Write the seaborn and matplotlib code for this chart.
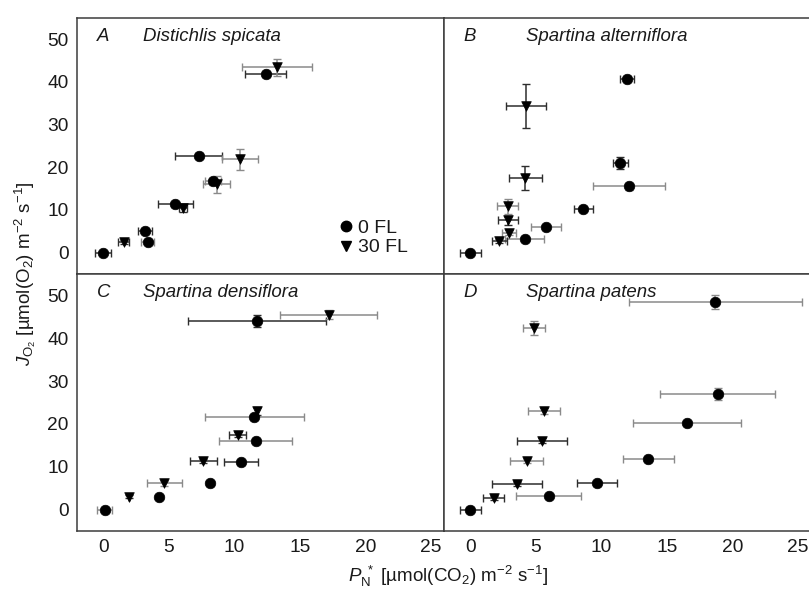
import numpy as np
import pandas as pd
import matplotlib
matplotlib.use("Agg")
import matplotlib.pyplot as plt
from matplotlib.lines import Line2D
import seaborn as sns

sns.set_theme(style="white")
plt.rcParams['font.family'] = ['Liberation Sans', 'DejaVu Sans']
plt.rcParams['mathtext.fontset'] = 'custom'
plt.rcParams['mathtext.rm'] = 'Liberation Sans'
plt.rcParams['mathtext.it'] = 'Liberation Sans:italic'

panels = ["A", "B", "C", "D"]
species = ["Distichlis spicata", "Spartina alterniflora", "Spartina densiflora", "Spartina patens"]
treatments = ["0 FL", "30 FL"]

# ---- Panel A ----
A0_x = [0.0, 3.2, 3.4, 5.5, 7.3, 8.36, 12.4]
A0_y = [0.0, 5.1, 2.6, 11.3, 22.7, 16.7, 41.8]
A0_xe = [0.6, 0.55, 0.5, 1.35, 1.8, 0.6, 1.55]
A0_ye = [0.5, 0.6, 0.5, 0.6, 0.6, 0.8, 0.7]
A0_dark = [1, 1, 0, 1, 1, 0, 1]
A30_x = [1.55, 6.07, 8.66, 10.44, 13.24]
A30_y = [2.5, 10.4, 16.0, 21.9, 43.4]
A30_xe = [0.45, 0.3, 1.05, 1.4, 2.67]
A30_ye = [0.5, 0.8, 1.95, 2.5, 1.95]
A30_dark = [1, 1, 0, 0, 0]

# ---- Panel B ----
B0_x = [0.0, 4.16, 5.79, 8.63, 11.45, 12.1, 11.96]
B0_y = [0.0, 3.3, 5.9, 10.3, 21.0, 15.6, 40.8]
B0_xe = [0.8, 1.5, 1.15, 0.7, 0.55, 2.73, 0.5]
B0_ye = [0.5, 0.5, 0.6, 0.6, 1.5, 0.8, 0.6]
B0_dark = [1, 0, 0, 1, 1, 0, 1]
B30_x = [2.23, 2.94, 2.86, 2.86, 4.21, 4.26]
B30_y = [2.7, 4.7, 7.6, 10.9, 17.4, 34.4]
B30_xe = [0.6, 0.55, 0.75, 0.8, 1.27, 1.55]
B30_ye = [0.5, 0.6, 1.0, 1.75, 2.8, 5.2]
B30_dark = [1, 0, 1, 0, 1, 1]

# ---- Panel C ----
C0_x = [0.1, 4.29, 8.15, 10.5, 11.64, 11.53, 11.71]
C0_y = [0.0, 3.0, 6.1, 11.0, 16.1, 21.6, 44.0]
C0_xe = [0.55, 0.0, 0.0, 1.3, 2.8, 3.8, 5.25]
C0_ye = [0.5, 0.4, 0.5, 0.6, 0.6, 0.7, 1.4]
C0_dark = [0, 1, 1, 1, 0, 0, 1]
C30_x = [1.93, 4.67, 7.65, 10.27, 11.71, 17.2]
C30_y = [3.0, 6.1, 11.4, 17.5, 23.0, 45.5]
C30_xe = [0.0, 1.33, 1.05, 0.65, 0.0, 3.7]
C30_ye = [0.4, 0.5, 0.5, 0.6, 1.0, 1.0]
C30_dark = [1, 0, 1, 1, 1, 0]

# ---- Panel D ----
D0_x = [0.0, 5.99, 9.67, 13.6, 16.53, 18.89, 18.68]
D0_y = [0.0, 3.2, 6.1, 11.8, 20.1, 26.9, 48.5]
D0_xe = [0.8, 2.5, 1.55, 1.93, 4.1, 4.4, 6.6]
D0_ye = [0.5, 0.5, 0.5, 0.6, 0.6, 1.4, 1.6]
D0_dark = [1, 0, 1, 0, 0, 0, 0]
D30_x = [1.78, 3.55, 4.31, 5.48, 5.63, 4.87]
D30_y = [2.7, 5.95, 11.4, 16.1, 23.0, 42.35]
D30_xe = [0.78, 1.9, 1.27, 1.88, 1.25, 0.85]
D30_ye = [0.5, 0.5, 0.5, 0.5, 0.6, 1.6]
D30_dark = [1, 1, 0, 1, 0, 0]

data = {
    "A": [(A0_x, A0_y, A0_xe, A0_ye, A0_dark), (A30_x, A30_y, A30_xe, A30_ye, A30_dark)],
    "B": [(B0_x, B0_y, B0_xe, B0_ye, B0_dark), (B30_x, B30_y, B30_xe, B30_ye, B30_dark)],
    "C": [(C0_x, C0_y, C0_xe, C0_ye, C0_dark), (C30_x, C30_y, C30_xe, C30_ye, C30_dark)],
    "D": [(D0_x, D0_y, D0_xe, D0_ye, D0_dark), (D30_x, D30_y, D30_xe, D30_ye, D30_dark)],
}

fig = plt.figure(figsize=(8.09, 5.90), dpi=100)
W, H = 809, 590
def ax_at(x0, y0, x1, y1):
    return fig.add_axes([x0 / W, 1 - y1 / H, (x1 - x0) / W, (y1 - y0) / H])

axes = {
    "A": ax_at(77, 18, 444, 274),
    "B": ax_at(444, 18, 811, 274),
    "C": ax_at(77, 274, 444, 531),
    "D": ax_at(444, 274, 811, 531),
}

spine_col = "#3c3c3c"
dark_col = "#2e2e2e"
gray_col = "#8a8a8a"
txt_col = "#1a1a1a"
markers = {"0 FL": "o", "30 FL": "v"}
sizes = {"0 FL": 58, "30 FL": 48}

for p, sp in zip(panels, species):
    ax = axes[p]
    rows = []
    for tr, (xs, ys, xe, ye, dk) in zip(treatments, data[p]):
        for i in range(len(xs)):
            col = dark_col if dk[i] else gray_col
            ax.errorbar(xs[i], ys[i], xerr=xe[i], yerr=ye[i], fmt="none",
                        ecolor=col, elinewidth=1.1, capsize=3, capthick=1.0, zorder=2)
            rows.append({"x": xs[i], "y": ys[i], "t": tr})
    df = pd.DataFrame(rows)
    for tr in treatments:
        sub = df[df["t"] == tr]
        sns.scatterplot(data=sub, x="x", y="y", marker=markers[tr], s=sizes[tr],
                        color="black", edgecolor="black", linewidth=0.5,
                        ax=ax, zorder=3, legend=False)
    ax.set_xlim(-2, 26)
    ax.set_ylim(-5, 55)
    ax.set_xticks([0, 5, 10, 15, 20, 25])
    ax.set_yticks([0, 10, 20, 30, 40, 50])
    ax.set_xlabel("")
    ax.set_ylabel("")
    ax.tick_params(direction="in", length=5, width=1, color=spine_col,
                   labelsize=13.8, labelcolor=txt_col, pad=6)
    if p in ("A", "B"):
        ax.tick_params(labelbottom=False)
    if p in ("B", "D"):
        ax.tick_params(labelleft=False)
    for s in ax.spines.values():
        s.set_color(spine_col)
        s.set_linewidth(1.1)
    ax.text(-0.5, 50.6, p, fontsize=13.4, style="italic", va="center", ha="left", color=txt_col)
    ax.text(3.05 if p in ("A", "C") else 4.25, 50.6, sp, fontsize=13.4, style="italic",
            va="center", ha="left", color=txt_col)

handles = [Line2D([], [], marker="o", color="black", linestyle="none", markersize=7.5),
           Line2D([], [], marker="v", color="black", linestyle="none", markersize=6.5)]
axes["A"].legend(handles, treatments, loc="lower right", bbox_to_anchor=(0.95, 0.0),
                 frameon=False, handlelength=0.6, handletextpad=0.35, labelspacing=0.1,
                 fontsize=14, labelcolor=txt_col)

fig.text(25 / W, 1 - 274 / H, r"$J_{\mathrm{O_2}}$ [µmol(O$_2$) m$^{-2}$ s$^{-1}$]",
         rotation=90, ha="center", va="center", fontsize=13.5, color=txt_col)
fig.text(448 / W, 1 - 576 / H, r"$P_{\mathrm{N}}^{\ *}$ [µmol(CO$_2$) m$^{-2}$ s$^{-1}$]",
         ha="center", va="center", fontsize=13.5, color=txt_col)

fig.savefig("out.png", dpi=100)
